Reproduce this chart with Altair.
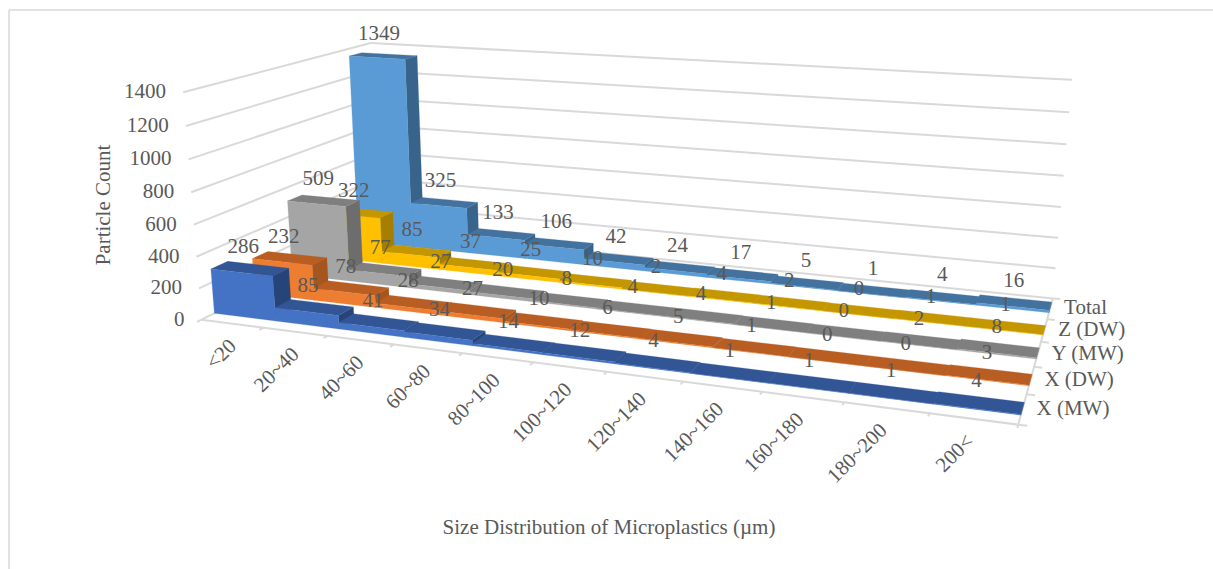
import altair as alt
import numpy as np

# Particle counts per size class and sampling group
categories = ["<20", "20~40", "40~60", "60~80", "80~100", "100~120", "120~140",
              "140~160", "160~180", "180~200", "200<"]
series_names = ["X (MW)", "X (DW)", "Y (MW)", "Z (DW)", "Total"]
x_mw = [286, 85, 41, 34, 14, 12, 4, 1, 1, 1, 4]
x_dw = [232, 78, 28, 27, 10, 6, 5, 1, 0, 0, 3]
y_mw = [509, 77, 27, 20, 8, 4, 4, 1, 0, 2, 8]
z_dw = [322, 85, 37, 25, 10, 2, 4, 2, 0, 1, 1]
total = [1349, 325, 133, 106, 42, 24, 17, 5, 1, 4, 16]
series_values = [x_mw, x_dw, y_mw, z_dw, total]
value_ticks = [0, 200, 400, 600, 800, 1000, 1200, 1400]

# Face colours of each series: front, top, side
face_colors = [
    ("#4472C4", "#325595", "#264478"),
    ("#ED7D31", "#B85E22", "#A5561F"),
    ("#A5A5A5", "#7F7F7F", "#6D6D6D"),
    ("#FFC000", "#C49600", "#A67F00"),
    ("#5B9BD5", "#43729E", "#38638A"),
]

W, H = 1213, 569
BAR_FRONT, BAR_BACK = 0.3, 0.7   # depth span of a bar inside its series slot
GRID = "#D9D9D9"
TEXT = "#595959"
FONT = "Liberation Serif"
FONT_SIZE = 21

# Camera: a perspective map (category, count, series depth) -> page pixels,
# solved from where the box corners of the 3D scene should land.
camera_anchors = [
    (0, 0, 0, 201, 320), (11, 0, 0, 1018, 425), (11, 0, 5, 1053, 298),
    (0, 1400, 0, 183, 92), (0, 1400, 5, 370, 42), (11, 1400, 5, 1072, 80),
    (0, 286, 0.3, 211, 269), (1, 286, 0.3, 273, 275), (0, 286, 0.7, 228, 262),
    (0, 1349, 4.3, 350, 57), (1, 1349, 4.3, 405, 58), (1, 1349, 4.7, 417, 57),
    (0, 1349, 4.7, 362, 53),
]
rows, rhs = [], []
for cx, cy, cz, u, v in camera_anchors:
    cy = cy / 1000
    rows.append([cx, cy, cz, 1, 0, 0, 0, 0, -u * cx, -u * cy, -u * cz]); rhs.append(u)
    rows.append([0, 0, 0, 0, cx, cy, cz, 1, -v * cx, -v * cy, -v * cz]); rhs.append(v)
cam = np.append(np.linalg.lstsq(np.array(rows, float), np.array(rhs, float), rcond=None)[0], 1).reshape(3, 4)


def project(cx, count, depth):
    p = cam @ np.array([cx, count / 1000, depth, 1.0])
    return [float(p[0] / p[2]), float(p[1] / p[2])]


def face(points, color):
    ring = [project(*pt) for pt in points]
    ring.append(ring[0])
    # screen y runs downward, so the winding is flipped for GeoJSON fill rules
    return {"type": "Feature", "geometry": {"type": "Polygon", "coordinates": [ring[::-1]]},
            "properties": {"color": color}}


# Camera position along the category axis decides which side wall of a bar shows
camera_x = np.linalg.svd(cam)[2][-1]
camera_x = float(camera_x[0] / camera_x[3])

bars = []
for j in reversed(range(len(series_values))):
    front, top, side = face_colors[j]
    z0, z1 = j + BAR_FRONT, j + BAR_BACK
    order = sorted(range(len(categories)), key=lambda i: -abs(i + 0.5 - camera_x))
    for i in order:
        v = series_values[j][i]
        wall = i + 1 if camera_x > i + 1 else i
        bars.append(face([(wall, 0, z0), (wall, 0, z1), (wall, v, z1), (wall, v, z0)], side))
        bars.append(face([(i, v, z0), (i + 1, v, z0), (i + 1, v, z1), (i, v, z1)], top))
        bars.append(face([(i, 0, z0), (i + 1, 0, z0), (i + 1, v, z0), (i, v, z0)], front))

# Walls, floor edges and tick marks
segments = []


def segment(a, b):
    (x, y), (x2, y2) = project(*a), project(*b)
    segments.append({"x": x, "y": y, "x2": x2, "y2": y2})


n_cat, n_ser = len(categories), len(series_names)
for v in value_ticks:
    segment((0, v, 0), (0, v, n_ser))
    segment((0, v, n_ser), (n_cat, v, n_ser))
segment((0, 0, 0), (n_cat, 0, 0))
segment((n_cat, 0, 0), (n_cat, 0, n_ser))
for i in range(n_cat + 1):
    segment((i, 0, 0), (i, 0, -0.1))
for j in range(n_ser + 1):
    segment((n_cat, 0, j), (n_cat + 0.1, 0, j))

# Chart frame along the top and left page edges
frame = [{"x": 9, "y": 10, "x2": W, "y2": 10}, {"x": 9, "y": 10, "x2": 9, "y2": H}]

labels = []


def label(text, x, y, align="center", angle=0):
    labels.append({"text": text, "x": x, "y": y, "align": align, "angle": angle})


for j, values in enumerate(series_values):
    for i, v in enumerate(values):
        px, py = project(i + 0.5, v, j + 0.5)
        label(str(v), px - 6.5 + 0.4 * i + 0.6 * j, py - 21.5)
for v in value_ticks:
    px, py = project(0, v, 0)
    label(str(v), px - 17, py, "right")
for j, name in enumerate(series_names):
    px, py = project(n_cat, 0, j + 0.5)
    label(name, px + 14, py - 0.5, "left")
for i, name in enumerate(categories):
    px, py = project(i + 0.5, 0, 0)
    label(name, px + 1 - 0.4 * i, py + 19.5, "right", -45)
label("Particle Count", 104, 205, "center", -90)
label("Size Distribution of Microplastics (µm)", 609, 528, "center", 0)

px_x = alt.X("x:Q", scale=None, axis=None)
px_y = alt.Y("y:Q", scale=None, axis=None)

rule_encoding = dict(x=px_x, y=px_y, x2="x2:Q", y2="y2:Q")
frame_layer = alt.Chart(alt.Data(values=frame)).mark_rule(color=GRID, strokeWidth=1.5).encode(**rule_encoding)
grid_layer = alt.Chart(alt.Data(values=segments)).mark_rule(color=GRID, strokeWidth=2).encode(**rule_encoding)

bar_layer = (
    alt.Chart(alt.Data(values=bars))
    .mark_geoshape(strokeWidth=0.4, strokeOpacity=0.6)
    .encode(fill=alt.Fill("properties.color:N", scale=None, legend=None),
            stroke=alt.Stroke("properties.color:N", scale=None, legend=None))
    .project(type="identity", scale=1, translate=[0, 0])
)

text_layers = [
    alt.Chart(alt.Data(values=[t for t in labels if t["align"] == a and t["angle"] == ang]))
    .mark_text(font=FONT, fontSize=FONT_SIZE, color=TEXT, align=a, baseline="middle", angle=ang % 360)
    .encode(x=px_x, y=px_y, text="text:N")
    for a, ang in [("center", 0), ("right", 0), ("left", 0), ("right", -45), ("center", -90)]
]

chart = (
    alt.layer(frame_layer, grid_layer, bar_layer, *text_layers)
    .properties(width=W, height=H, padding=0, autosize=alt.AutoSizeParams(type="none"), background="white")
    .configure_view(stroke=None)
)

chart.save("out.html", embed_options={"renderer": "svg", "actions": False})
